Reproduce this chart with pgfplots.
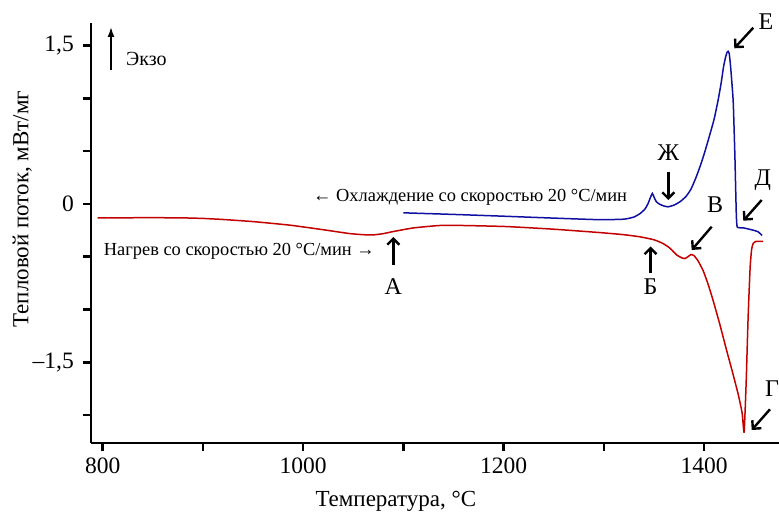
\documentclass[border=0pt]{standalone}
\usepackage{fontspec}
\setmainfont{Liberation Serif}
\usepackage{pgfplots}
\pgfplotsset{compat=1.18}
\usetikzlibrary{arrows.meta}
\definecolor{cred}{RGB}{195,0,0}
\definecolor{cblue}{RGB}{15,15,160}
\begin{document}
\begin{tikzpicture}
\begin{axis}[
  at={(91.3pt,69.3pt)}, anchor=south west,
  scale only axis, width=687.7pt, height=419.4pt,
  xmin=788.6, xmax=1474.8, ymin=-2.262, ymax=1.71,
  axis x line*=bottom, axis y line*=left,
  axis line style={line width=2pt},
  xtick={800,1000,1200,1400}, xticklabels={800,1000,1200,1400},
  minor xtick={900,1100,1300},
  ytick={-1.5,0,1.5}, yticklabels={{–1,5},{0},{1,5}},
  minor ytick={-2,-1,-0.5,0.5,1},
  tick align=outside,
  major tick length=8pt, minor tick length=8pt,
  tick style={black, line width=2.6pt},
  ticklabel style={font=\fontsize{23.5}{23.5}\selectfont},
  xticklabel style={yshift=-4pt},
  yticklabel style={xshift=-6pt},
  xlabel={Температура, °C},
  ylabel={Тепловой поток, мВт/мг},
  every axis x label/.style={at={(axis description cs:0.4428,0)}, anchor=base, yshift=-63.3pt, font=\fontsize{23}{23}\selectfont},
  every axis y label/.style={at={(axis description cs:0,0.557)}, rotate=90, anchor=base, yshift=62.8pt, font=\fontsize{23}{23}\selectfont},
  clip=false,
]
\addplot[cred, line width=1.5pt, smooth, tension=0.3] coordinates {
(795,-0.133) (820,-0.132) (850,-0.131) (880,-0.133) (900,-0.138) (920,-0.148)
(950,-0.168) (987,-0.202) (1020,-0.245) (1046,-0.281) (1060,-0.292) (1070,-0.294)
(1080,-0.282) (1090,-0.262) (1110,-0.228) (1136,-0.205) (1160,-0.205) (1203,-0.215)
(1250,-0.24) (1296,-0.272) (1320,-0.292) (1336,-0.312) (1350,-0.34) (1359,-0.375)
(1366,-0.42) (1373,-0.486) (1378,-0.512) (1381,-0.518) (1384,-0.5) (1387,-0.48)
(1390,-0.49) (1394,-0.54) (1399,-0.63) (1404,-0.76) (1409,-0.913) (1416,-1.15)
(1422.5,-1.387) (1428,-1.58) (1434,-1.8) (1438,-1.98) (1440,-2.161) (1442,-1.7)
(1444,-1.07) (1446,-0.6) (1447.5,-0.43) (1449,-0.375) (1452,-0.355) (1459,-0.355)
};
\addplot[cblue, line width=1.5pt, smooth, tension=0.3] coordinates {
(1100,-0.085) (1150,-0.1) (1200,-0.117) (1250,-0.135) (1296,-0.15) (1320,-0.145)
(1330,-0.125) (1336,-0.093) (1341,-0.05) (1344,0.0) (1346.5,0.06) (1348.4,0.099)
(1350.3,0.06) (1352.4,0.02) (1356,-0.005) (1360,-0.02) (1364,-0.028) (1370,-0.012)
(1376,0.02) (1382,0.07) (1387,0.14) (1392,0.25) (1397,0.38) (1401,0.5) (1405,0.63)
(1410,0.8) (1414,0.98) (1417,1.14) (1419.5,1.3) (1421.5,1.39) (1423,1.435)
(1424,1.445) (1425.2,1.42) (1426.5,1.3) (1428,1.12) (1429.2,0.95) (1430.8,0.45)
(1432.2,-0.1) (1433.2,-0.22) (1439,-0.227) (1449,-0.249) (1454,-0.265) (1458,-0.3)
};
\end{axis}
\begin{scope}[x=1pt,y=-1pt,shift={(0pt,512pt)}]
\tikzset{ann/.style={line width=2.4pt,-{Straight Barb[length=6pt,width=12pt]}},
  lab/.style={anchor=base,inner sep=0,font=\fontsize{24}{24}\selectfont},
  txt/.style={inner sep=0,font=\fontsize{18.4}{18.4}\selectfont}}
% Exo
\draw[line width=1.6pt,-{Latex[length=10pt,width=7pt]}] (111,70) -- (111,27);
\node[inner sep=0,font=\fontsize{20}{20}\selectfont,anchor=base west] at (126,66) {Экзо};
% texts
\node[txt,anchor=base west] at (313,202) {← Охлаждение со скоростью 20 °C/мин};
\node[txt,anchor=base east] at (375,256) {Нагрев со скоростью 20 °C/мин →};
% A
\draw[ann] (393.3,265) -- (393.3,237);
\node[lab] at (393.3,295) {А};
% Б
\draw[ann] (650.5,273) -- (650.5,246.5);
\node[lab] at (650.5,295) {Б};
% В
\draw[ann] (711.7,226.7) -- (691.7,250);
\node[lab] at (715,213) {В};
% Г
\draw[ann] (770,409.3) -- (751.7,430);
\node[lab] at (772,396.7) {Г};
% Д
\draw[ann] (761.7,200) -- (743.3,220.7);
\node[lab] at (762.7,186) {Д};
% Е
\draw[ann] (753.3,27.7) -- (734.3,48.3);
\node[lab] at (766,29.3) {Е};
% Ж
\draw[ann] (668.3,171.7) -- (668.3,200);
\node[lab] at (668.3,161) {Ж};
\pgfresetboundingbox
\path (0,0) rectangle (779,512);
\end{scope}
\end{tikzpicture}
\end{document}
